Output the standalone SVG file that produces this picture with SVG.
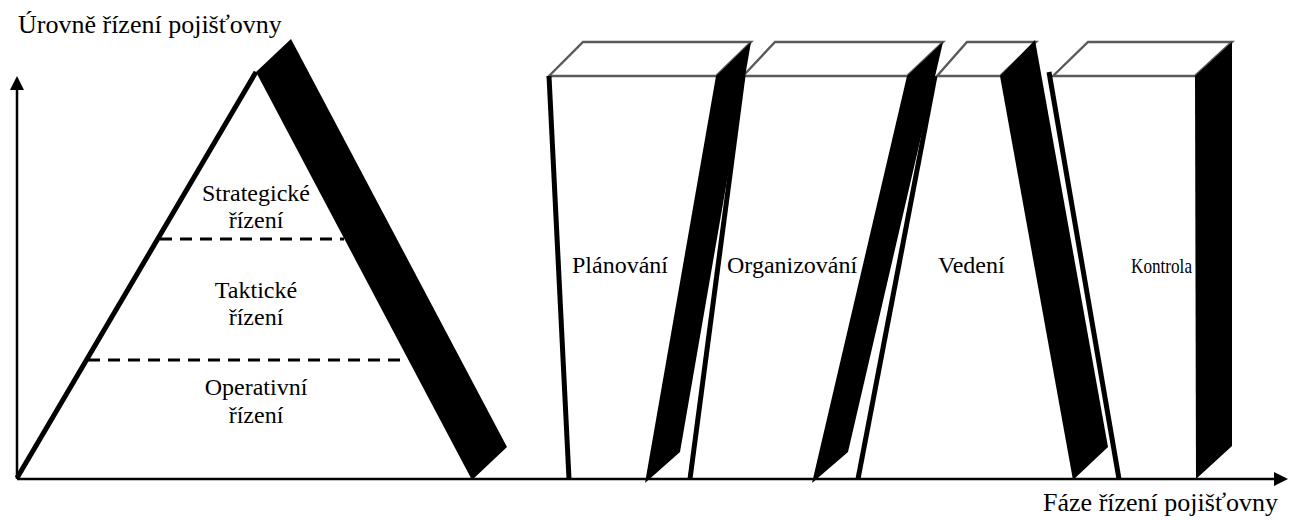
<svg xmlns="http://www.w3.org/2000/svg" width="1292" height="520" viewBox="0 0 1292 520">
<style>
text{font-family:"Liberation Serif","Times New Roman",serif;fill:#000}
.ax{font-size:26px}
.lb{font-size:24px}
.edge{stroke:#000;stroke-width:5;fill:none}
.top{stroke:#5a5a5a;stroke-width:2.4;fill:none;stroke-linejoin:miter}
.face{fill:#000;stroke:none}
.dash{stroke:#000;stroke-width:3;stroke-dasharray:12 8;fill:none}
.axis{stroke:#000;stroke-width:2.5;fill:none}
</style>
<defs>
<marker id="arr" viewBox="0 0 14 14" refX="2" refY="7" markerWidth="14" markerHeight="14" markerUnits="userSpaceOnUse" orient="auto">
<path d="M0,0 L14,7 L0,14 z" fill="#000"/>
</marker>
</defs>
<rect width="1292" height="520" fill="#fff"/>
<g id="connectors">
<line class="axis" x1="17" y1="479" x2="17" y2="88" marker-end="url(#arr)"/>
<line class="axis" x1="17" y1="479" x2="1276" y2="479" marker-end="url(#arr)"/>
</g>
<text class="ax" x="18" y="33">Úrovně řízení pojišťovny</text>
<text class="ax" x="1278" y="511" text-anchor="end">Fáze řízení pojišťovny</text>
<g id="pyramid">
<polygon class="face" points="256,72 291,39 507,447 472,480"/>
<line class="edge" x1="17" y1="478" x2="256" y2="72"/>
<line class="dash" x1="160" y1="239" x2="344" y2="239"/>
<line class="dash" x1="88" y1="360" x2="404" y2="360"/>
<text class="lb" x="256" y="201" text-anchor="middle">Strategické</text>
<text class="lb" x="256" y="228" text-anchor="middle">řízení</text>
<text class="lb" x="256" y="298" text-anchor="middle">Taktické</text>
<text class="lb" x="256" y="325" text-anchor="middle">řízení</text>
<text class="lb" x="256" y="395" text-anchor="middle">Operativní</text>
<text class="lb" x="256" y="423" text-anchor="middle">řízení</text>
</g>
<g id="box-organizovani">
<polygon class="top" points="743,76 775,42 943,42 907,76"/>
<line class="edge" x1="743" y1="76" x2="690" y2="479"/>
<polygon class="face" points="907,76 943,42 848,452 812,483"/>
<text class="lb" x="727" y="273">Organizování</text>
</g>
<g id="box-planovani">
<polygon class="top" points="549,76 583,42 751,42 716,76"/>
<line class="edge" x1="549" y1="76" x2="569" y2="479"/>
<polygon class="face" points="716,76 751,42 680,452 645,483"/>
<text class="lb" x="572" y="273">Plánování</text>
</g>
<g id="box-vedeni">
<polygon class="top" points="937,76 967,42 1036,42 1000,76"/>
<line class="edge" x1="935" y1="76" x2="858" y2="479"/>
<polygon class="face" points="1000,76 1035,40 1108,447 1073,480"/>
<text class="lb" x="938" y="273">Vedení</text>
</g>
<g id="box-kontrola">
<polygon class="top" points="1053,76 1088,42 1232,42 1195,76"/>
<line class="edge" x1="1049" y1="72" x2="1119" y2="479"/>
<polygon class="face" points="1195,76 1232,42 1232,446 1196,479"/>
<text x="1131" y="273" font-size="22" textLength="61" lengthAdjust="spacingAndGlyphs">Kontrola</text>
</g>
</svg>
